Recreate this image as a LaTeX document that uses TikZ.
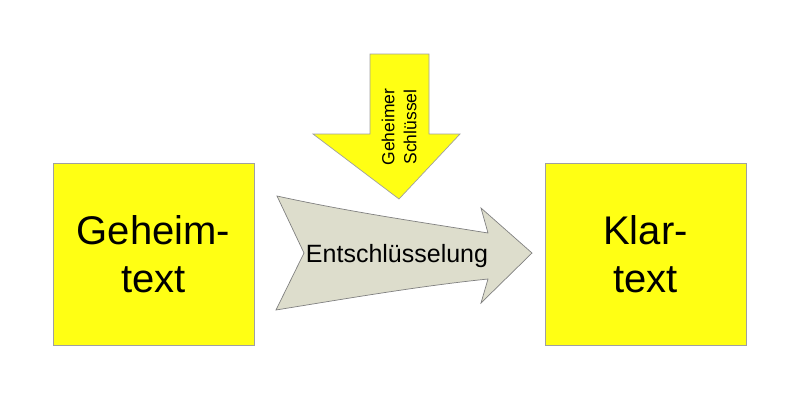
\documentclass[tikz,border=0pt]{standalone}
\usepackage{fontspec}
\setmainfont{Liberation Sans}
\definecolor{boxyellow}{HTML}{FFFF14}
\definecolor{boxline}{HTML}{A0A0A0}
\definecolor{arrowgray}{HTML}{DDDDCC}
\definecolor{arrowline}{HTML}{808080}
\begin{document}
\begin{tikzpicture}[x=1pt,y=-1pt,
  textbox/.style={draw=boxline, fill=boxyellow, line width=0.8pt},
  bigtext/.style={font=\fontsize{40}{48}\selectfont, align=center},
  midtext/.style={font=\fontsize{25}{30}\selectfont},
  keytext/.style={font=\fontsize{17.5}{22}\selectfont, align=center, rotate=90}]
\useasboundingbox (0,0) rectangle (800,400);
% boxes
\draw[textbox] (53,163) rectangle (254,345);
\draw[textbox] (545,163) rectangle (746,345);
\node[bigtext] (geheim) at (153.5,254) {Geheim-\\text};
\node[bigtext] (klar) at (645.5,254) {Klar-\\text};
% curved arrow
\draw[fill=arrowgray, draw=arrowline, line width=0.7pt, line join=miter]
  (277,196) .. controls (350,212) and (420,222) .. (488,233)
  -- (481,208) -- (532,253) -- (481,303) -- (488,279)
  .. controls (420,286) and (350,298) .. (276,310)
  -- (304,253) -- cycle;
\node[midtext] (ent) at (397,256) {Entschlüsselung};
% down arrow
\draw[fill=boxyellow, draw=boxline, line width=0.7pt]
  (370,54) -- (429,54) -- (429,134) -- (460,134) -- (399,199)
  -- (313,134) -- (370,134) -- cycle;
\node[keytext] (key) at (399,127) {Geheimer\\Schlüssel};
\end{tikzpicture}
\end{document}
